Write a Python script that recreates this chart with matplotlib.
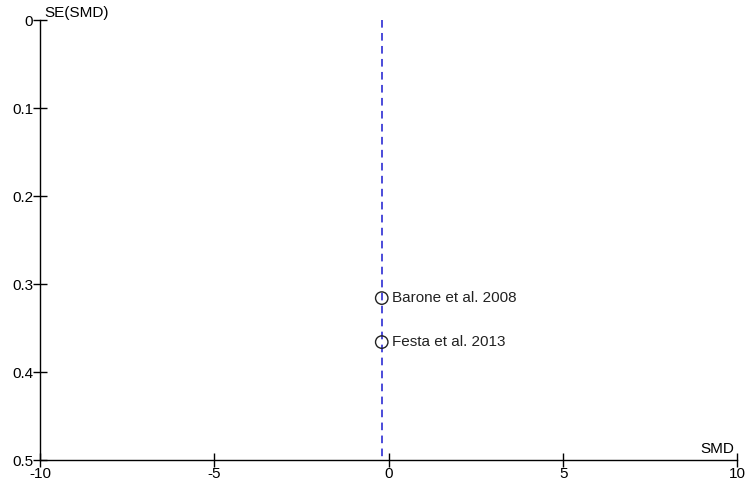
import matplotlib
matplotlib.use('Agg')
import matplotlib.pyplot as plt

plt.rcParams['font.family'] = ['Liberation Sans', 'DejaVu Sans']
plt.rcParams['axes.unicode_minus'] = False

# study data
studies = ['Barone et al. 2008', 'Festa et al. 2013']
smd = [-0.2, -0.2]
se_smd = [0.316, 0.366]
pooled_smd = -0.2

x_ticks = [-10, -5, 0, 5, 10]
y_ticks = [0, 0.1, 0.2, 0.3, 0.4, 0.5]

fig = plt.figure(figsize=(7.5, 5), dpi=100)
ax = fig.add_axes([0.0533, 0.08, 0.93, 0.88])

ax.plot([pooled_smd, pooled_smd], [0, 0.5], color='#1a1ad0', ls=(0, (5, 3.5)),
        linewidth=1.1, zorder=1)
ax.scatter(smd, se_smd, s=80, facecolors='none', edgecolors='#222222',
           linewidths=1.0, zorder=3)
for name, x, y in zip(studies, smd, se_smd):
    ax.text(x + 0.3, y, name, fontsize=11, va='center', ha='left',
            color='#222222')

ax.set_xlim(-10, 10)
ax.set_ylim(0.5, 0)
ax.set_xticks(x_ticks)
ax.set_yticks(y_ticks)
ax.set_yticklabels(['0', '0.1', '0.2', '0.3', '0.4', '0.5'])
ax.tick_params(direction='inout', length=10, width=1, labelsize=11,
               colors='black', pad=0)

for s in ['top', 'right']:
    ax.spines[s].set_visible(False)
for s in ['left', 'bottom']:
    ax.spines[s].set_linewidth(1.0)

ax.text(0.007, 1.0, 'SE(SMD)', transform=ax.transAxes, fontsize=11,
        ha='left', va='bottom')
ax.text(0.995, 0.008, 'SMD', transform=ax.transAxes, fontsize=11,
        ha='right', va='bottom')

fig.savefig('out.png', dpi=100)
